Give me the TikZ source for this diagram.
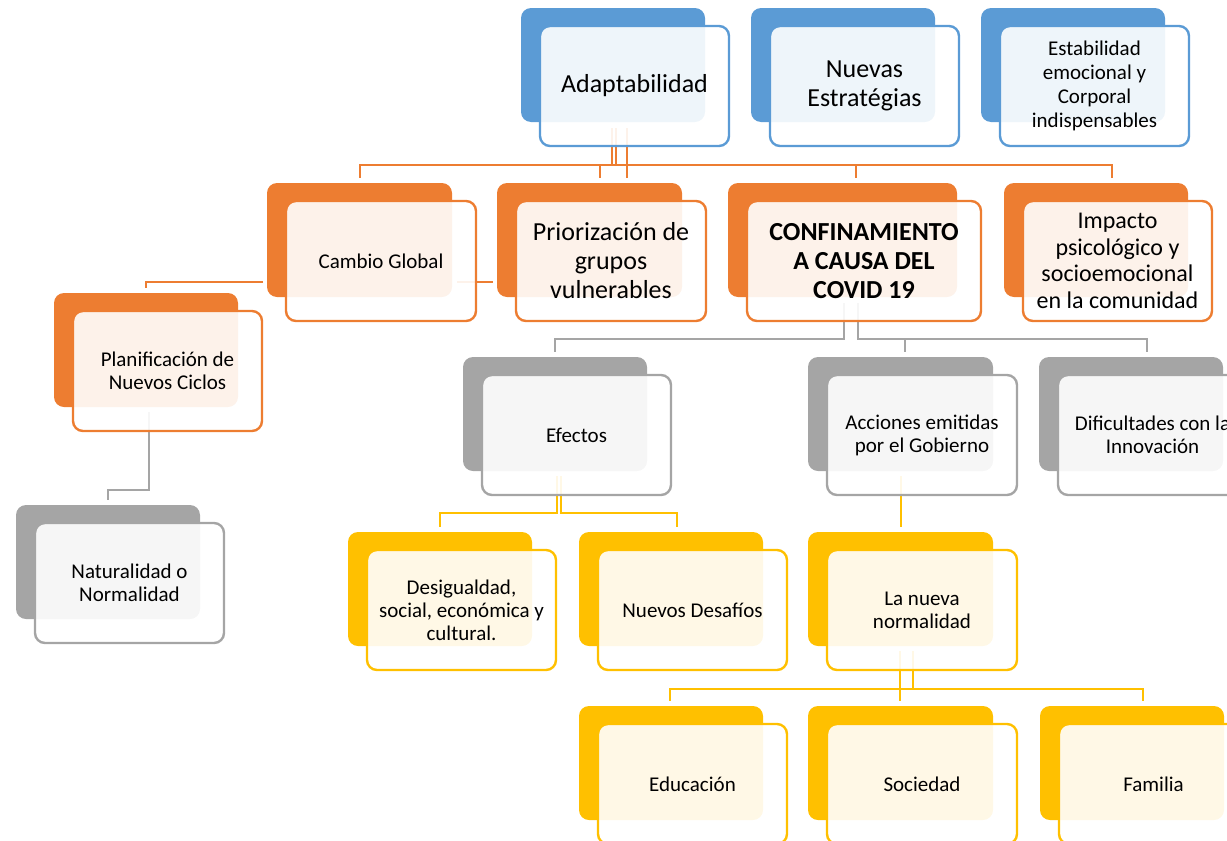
\documentclass[tikz,border=0pt]{standalone}
\usepackage{fontspec}
\setmainfont{Carlito}
\usetikzlibrary{calc,backgrounds}
\definecolor{cblue}{HTML}{5B9BD5}
\definecolor{corange}{HTML}{ED7D31}
\definecolor{cgray}{HTML}{A5A5A5}
\definecolor{cyellow}{HTML}{FFC000}
\tikzset{
  backbox/.style={rounded corners=10pt, minimum height=114pt, inner sep=0pt, outer sep=0pt, anchor=north west},
  frontbox/.style={rounded corners=10pt, line width=2.4pt, fill=white, fill opacity=0.9, text opacity=1, minimum height=120pt, inner sep=0pt, outer sep=0pt, anchor=north west, align=center, text=black},
  oline/.style={draw=corange, line width=2.7pt},
  gline/.style={draw=cgray, line width=2.7pt},
  yline/.style={draw=cyellow, line width=2.7pt},
  fs/.style={font=\fontsize{21}{23}\selectfont},
  fe/.style={font=\fontsize{21}{24}\selectfont},
  fm/.style={font=\fontsize{24}{26.7}\selectfont},
  fl/.style={font=\fontsize{26}{29}\selectfont},
  fb/.style={font=\bfseries\fontsize{26}{29}\selectfont},
}
\newcommand\elemX[7]{%
  \node[backbox, fill=#2, minimum width=#5pt] (#1B) at (#3,#4) {};
  \node[frontbox, draw=#2, minimum width=#5pt+5pt, #6] (#1F) at (#3+19,#4+18) {#7};
}
\begin{document}
\begin{tikzpicture}[x=1pt,y=-1pt]
\useasboundingbox (0,0) rectangle (1227,841);
\elemX{ada}{cblue}{521}{8}{184}{fl}{Adaptabilidad}
\elemX{nue}{cblue}{751}{8}{184}{fl}{Nuevas\\Estratégias}
\elemX{est}{cblue}{981}{8}{184}{fe}{Estabilidad\\emocional y\\Corporal\\indispensables}
\elemX{cam}{corange}{267}{183}{185}{fs}{Cambio Global}
\elemX{pri}{corange}{497}{183}{185}{fl}{Priorización de\\grupos\\vulnerables}
\elemX{con}{corange}{728}{183}{229}{fb}{CONFINAMIENTO\\A CAUSA DEL\\COVID 19}
\elemX{imp}{corange}{1004}{183}{184}{fm}{Impacto\\psicológico y\\socioemocional\\en la comunidad}
\elemX{pla}{corange}{54}{293}{184}{fs}{Planificación de\\Nuevos Ciclos}
\elemX{nat}{cgray}{16}{505}{184}{fs}{Naturalidad o\\Normalidad}
\elemX{efe}{cgray}{463}{357}{184}{fs}{Efectos}
\elemX{acc}{cgray}{808}{357}{185}{fs}{Acciones emitidas\\por el Gobierno}
\elemX{dif}{cgray}{1039}{357}{184}{fs}{Dificultades con la\\Innovación}
\elemX{des}{cyellow}{348}{532}{184}{fs}{Desigualdad,\\social, económica y\\cultural.}
\elemX{nde}{cyellow}{579}{532}{184}{fs}{Nuevos Desafíos}
\elemX{lnn}{cyellow}{808}{532}{185}{fs}{La nueva\\normalidad}
\elemX{edu}{cyellow}{579}{706}{184}{fs}{Educación}
\elemX{soc}{cyellow}{808}{706}{185}{fs}{Sociedad}
\elemX{fam}{cyellow}{1040}{706}{184}{fs}{Familia}
\begin{scope}[on background layer]
% orange from Adaptabilidad
\draw[oline] ($(adaB.south)+(-1,6)$) |- ($(camB.north)+(0.5,-18)$) -- ($(camB.north)+(0.5,-5)$);
\draw[oline] ($(adaB.south)+(3,6)$) |- ($(priB.north)+(10.5,-18)$) -- ($(priB.north)+(10.5,-5)$);
\draw[oline] ($(adaB.south)+(14,6)$) -- ($(priB.north)+(37.5,-5)$);
\draw[oline] ($(adaB.south)+(3,6)$) |- ($(conB.north)+(13.5,-18)$) -- ($(conB.north)+(13.5,-5)$);
\draw[oline] ($(adaB.south)+(3,6)$) |- ($(impB.north)+(16,-18)$) -- ($(impB.north)+(16,-5)$);
% Cambio Global
\draw[oline] ($(camB.west)+(-4,42)$) -| ($(plaB.north)+(0,-5)$);
\draw[oline] ($(camB.east)+(5,42)$) -- ($(priB.west)+(-4,42)$);
% Planificacion -> Naturalidad
\draw[gline] ($(plaB.south)+(3,5)$) |- ($(natB.north)+(0,-15)$) -- ($(natB.north)+(0,-5)$);
% gray from CONFINAMIENTO
\draw[gline] ($(conB.south)+(1.5,6)$) |- ($(efeB.north)+(0,-18)$) -- ($(efeB.north)+(0,-5)$);
\draw[gline] ($(conB.south)+(15.5,6)$) |- ($(accB.north)+(4.5,-18)$) -- ($(accB.north)+(4.5,-5)$);
\draw[gline] ($(conB.south)+(15.5,6)$) |- ($(difB.north)+(16,-18)$) -- ($(difB.north)+(16,-5)$);
% yellow from Efectos
\draw[yline] ($(efeB.south)+(2,5)$) |- ($(desB.north)+(0,-19)$) -- ($(desB.north)+(0,-5)$);
\draw[yline] ($(efeB.south)+(6,5)$) |- ($(ndeB.north)+(6,-19)$) -- ($(ndeB.north)+(6,-5)$);
% Acciones -> La nueva normalidad
\draw[yline] ($(accB.south)+(0.5,5)$) -- ($(lnnB.north)+(0.5,-5)$);
% La nueva normalidad -> children
\draw[yline] ($(lnnB.south)+(-0.5,5)$) -- ($(socB.north)+(-0.5,-5)$);
\draw[yline] ($(lnnB.south)+(12.5,5)$) |- ($(eduB.north)+(-1,-17)$) -- ($(eduB.north)+(-1,-5)$);
\draw[yline] ($(lnnB.south)+(12.5,5)$) |- ($(famB.north)+(11,-17)$) -- ($(famB.north)+(11,-5)$);
\end{scope}
\end{tikzpicture}
\end{document}
